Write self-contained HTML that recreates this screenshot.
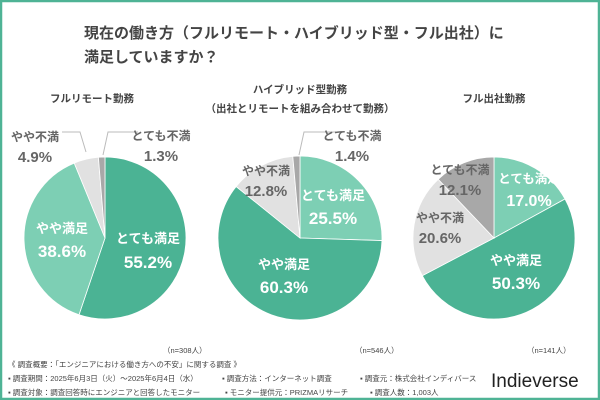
<!DOCTYPE html>
<html><head><meta charset="utf-8"><style>
body{margin:0;width:600px;height:400px;overflow:hidden;background:#fff}
svg{display:block}
text{font-family:"Liberation Sans","Noto Sans CJK JP",sans-serif}
</style></head><body>
<svg id="s" width="600" height="400" viewBox="0 0 600 400">
<rect x="1" y="1" width="598" height="398" fill="#fff" stroke="#4fb395" stroke-width="2.5"/>
<g font-weight="bold" fill="#444" font-size="15">
<text x="84" y="38">現在の働き方（フルリモート・ハイブリッド型・フル出社）に</text>
<text x="84" y="62">満足していますか？</text>
</g>
<g font-weight="bold" fill="#444" font-size="10.5" text-anchor="middle">
<text x="92" y="102">フルリモート勤務</text>
<text x="300" y="93">ハイブリッド型勤務</text>
<text x="300" y="112">（出社とリモートを組み合わせて勤務）</text>
<text x="494" y="102">フル出社勤務</text>
</g>
<g id="pies"></g>
<g stroke="#bbb" stroke-width="1" fill="none">
<polyline points="62,132 80,132 86,152"/>
<polyline points="138,132 108,132 103,155"/>
<polyline points="336,132 304,132 299,155"/>
</g>
<g font-weight="bold" text-anchor="middle">
<g fill="#fff">
<text x="148" y="243" font-size="13">とても満足</text><text x="148" y="268" font-size="17">55.2%</text>
<text x="62" y="233" font-size="13">やや満足</text><text x="62" y="257" font-size="17">38.6%</text>
<text x="333" y="200" font-size="13">とても満足</text><text x="333" y="224" font-size="17">25.5%</text>
<text x="284" y="269" font-size="13">やや満足</text><text x="284" y="293" font-size="17">60.3%</text>
<text x="529" y="183" font-size="12.5">とても満足</text><text x="529" y="206" font-size="16">17.0%</text>
<text x="516" y="265" font-size="13">やや満足</text><text x="516" y="289" font-size="17">50.3%</text>
</g>
<g fill="#666">
<text x="35" y="141" font-size="12">やや不満</text><text x="35" y="162" font-size="15">4.9%</text>
<text x="161" y="140" font-size="12">とても不満</text><text x="161" y="161" font-size="15">1.3%</text>
<text x="352" y="140" font-size="12">とても不満</text><text x="352" y="161" font-size="15">1.4%</text>
<text x="266" y="175" font-size="12">やや不満</text><text x="266" y="196" font-size="15">12.8%</text>
<text x="440" y="222" font-size="12">やや不満</text><text x="440" y="243" font-size="15">20.6%</text>
<text x="460" y="174" font-size="12">とても不満</text><text x="460" y="195" font-size="15">12.1%</text>
</g>
</g>
<g fill="#444" font-size="7.5">
<text x="163" y="353">（n=308人）</text>
<text x="355" y="353">（n=546人）</text>
<text x="527" y="353">（n=141人）</text>
<text x="8" y="367">《 調査概要：「エンジニアにおける働き方への不安」に関する調査 》</text>
<text x="8" y="381">▪ 調査期間：2025年6月3日（火）～2025年6月4日（水）</text>
<text x="222" y="381">▪ 調査方法：インターネット調査</text>
<text x="360" y="381">▪ 調査元：株式会社インディバース</text>
<text x="8" y="395">▪ 調査対象：調査回答時にエンジニアと回答したモニター</text>
<text x="225" y="395">▪ モニター提供元：PRIZMAリサーチ</text>
<text x="370" y="395">▪ 調査人数：1,003人</text>
</g>
<text x="491" y="387" font-size="19" fill="#222">Indieverse</text>
</svg>
<script>
var D="#4bb394",L="#7dcfb4",G="#e1e1e1",K="#a8a8a8";
var pies=[[105,238,81,[[55.2,D],[38.6,L],[4.9,G],[1.3,K]]],
[300,238,82,[[25.5,L],[60.3,D],[12.8,G],[1.4,K]]],
[494,238,81,[[17.0,L],[50.3,D],[20.6,G],[12.1,K]]]];
var g=document.getElementById("pies"),h="";
pies.forEach(function(p){var cx=p[0],cy=p[1],r=p[2],a=0,tot=0;p[3].forEach(function(s){tot+=s[0]});
p[3].forEach(function(s){var a0=a/tot*2*Math.PI,a1=(a+s[0])/tot*2*Math.PI;a+=s[0];
var x0=cx+r*Math.sin(a0),y0=cy-r*Math.cos(a0),x1=cx+r*Math.sin(a1),y1=cy-r*Math.cos(a1);
h+='<path d="M'+cx+','+cy+' L'+x0+','+y0+' A'+r+','+r+' 0 '+((a1-a0)>Math.PI?1:0)+' 1 '+x1+','+y1+' Z" fill="'+s[1]+'" stroke="#fff" stroke-width="0.8"/>';});});
g.innerHTML=h;
</script>
</body></html>
